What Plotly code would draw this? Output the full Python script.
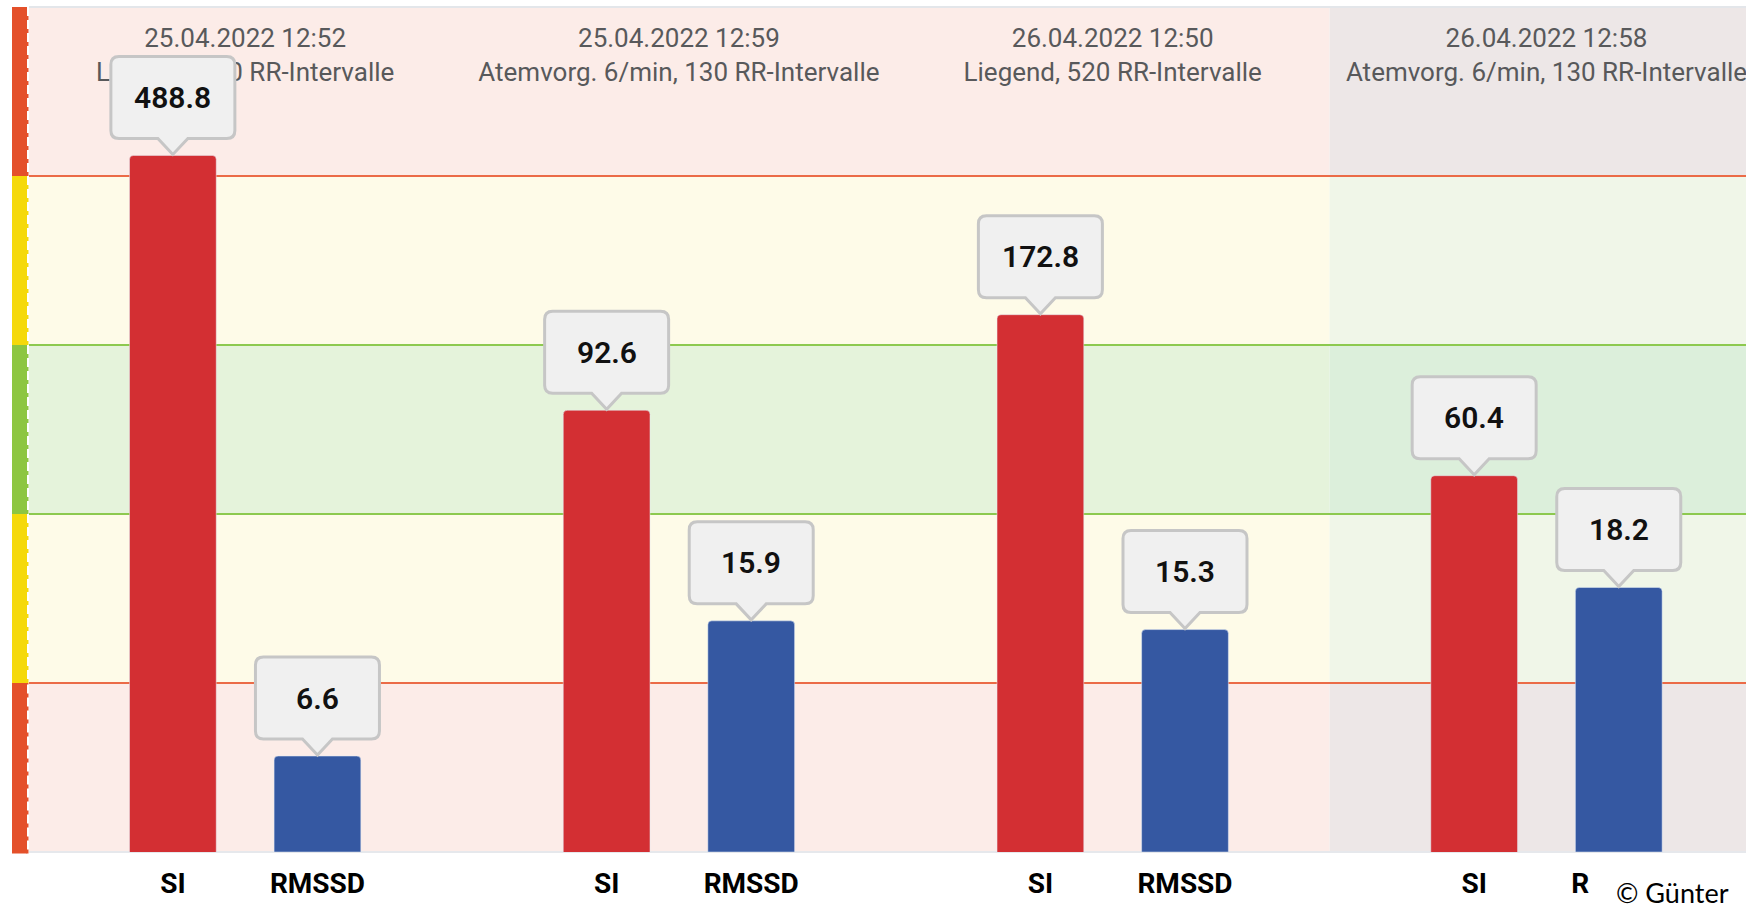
import numpy as np
import plotly.graph_objects as go

# ---------------- data ----------------
timestamps = ["25.04.2022 12:52", "25.04.2022 12:59", "26.04.2022 12:50", "26.04.2022 12:58"]
conditions = ["Liegend, 520 RR-Intervalle", "Atemvorg. 6/min, 130 RR-Intervalle",
              "Liegend, 520 RR-Intervalle", "Atemvorg. 6/min, 130 RR-Intervalle"]
si_values = [488.8, 92.6, 172.8, 60.4]
rmssd_values = [6.6, 15.9, 15.3, 18.2]
metric_labels = ["SI", "RMSSD"]
selected_group = 3

# ---------------- style ----------------
W, H = 1746, 905
ML, MR, MT, MB = 29, 0, 7, 53
PW, PH = W - ML - MR, H - MT - MB
SI_COLOR = "#D32F33"
RMSSD_COLOR = "#3558A2"
band_edges = [0, 0.2, 0.4, 0.6, 0.8, 1.0]
band_fill = ["#FCECE8", "#FEFBE8", "#E5F3DB", "#FEFBE8", "#FCECE8"]
band_fill_sel = ["#EDE7E7", "#F0F6E8", "#DCEFDB", "#F0F6E8", "#EDE7E7"]
strip_colors = ["#E4502A", "#F5D90A", "#8DC641", "#F5D90A", "#E4502A"]
edge_line_colors = ["#EB6B47", "#8DC94F", "#8DC94F", "#EB6B47"]
FONT = "Roboto, 'Liberation Sans', sans-serif"

n = len(si_values)
group_step = 3
si_x = [group_step * i for i in range(n)]
rmssd_x = [group_step * i + 1 for i in range(n)]
tick_vals = sorted(si_x + rmssd_x)
tick_text = [metric_labels[0] if v in si_x else metric_labels[1] for v in tick_vals]

fig = go.Figure()
fig.add_trace(go.Bar(x=si_x, y=si_values, width=0.6, marker=dict(color=SI_COLOR, cornerradius=4),
                     yaxis="y", name="SI", showlegend=False))
fig.add_trace(go.Bar(x=rmssd_x, y=rmssd_values, width=0.6, marker=dict(color=RMSSD_COLOR, cornerradius=4),
                     yaxis="y2", name="RMSSD", showlegend=False))

# group headers (below tooltip shapes)
header_text = [f"{t}<br>{c}" for t, c in zip(timestamps, conditions)]
fig.add_trace(go.Scatter(x=[gx + 0.5 for gx in si_x], y=[0.940] * n, yaxis="y3", mode="text",
                         text=header_text, textposition="middle center",
                         textfont=dict(family=FONT, size=26, color="#58595B"),
                         showlegend=False, hoverinfo="skip", cliponaxis=False))

shapes = []
x_lo, x_hi = -0.995, 10.88
col_edges = [gx - 1 for gx in si_x] + [si_x[-1] + 2]
sel_start = col_edges[selected_group]
# background bands
for b in range(5):
    shapes.append(dict(type="rect", xref="x", yref="paper", x0=x_lo - 1, x1=sel_start,
                       y0=band_edges[b], y1=band_edges[b + 1], fillcolor=band_fill[b],
                       line=dict(width=0), layer="below"))
    shapes.append(dict(type="rect", xref="x", yref="paper", x0=sel_start, x1=x_hi + 2,
                       y0=band_edges[b], y1=band_edges[b + 1], fillcolor=band_fill_sel[b],
                       line=dict(width=0), layer="below"))
    # left colour strip
    y0 = band_edges[b] if b > 0 else -1.5 / PH
    shapes.append(dict(type="rect", xref="paper", yref="paper", x0=-17 / PW, x1=-2 / PW,
                       y0=y0, y1=band_edges[b + 1], fillcolor=strip_colors[b],
                       line=dict(width=0), layer="below"))
    shapes.append(dict(type="line", xref="paper", yref="paper", x0=-1.5 / PW, x1=-1.5 / PW,
                       y0=y0, y1=band_edges[b + 1],
                       line=dict(color=strip_colors[b], width=2, dash="4px,9px"), layer="below"))
for k, c in enumerate(edge_line_colors):
    shapes.append(dict(type="line", xref="paper", yref="paper", x0=0, x1=1,
                       y0=band_edges[k + 1], y1=band_edges[k + 1],
                       line=dict(color=c, width=2), layer="below"))
# borders
shapes.append(dict(type="line", xref="paper", yref="paper", x0=0, x1=1, y0=1, y1=1,
                   line=dict(color="#E3E6EA", width=2), layer="below"))
shapes.append(dict(type="line", xref="paper", yref="paper", x0=0, x1=1, y0=0, y1=0,
                   line=dict(color="#E6E8EC", width=2), layer="below"))

# tooltip callouts (pixel-sized, anchored at bar tops)
tip_path = ("M 0,1 L -15,17 L -54,17 Q -62,17 -62,25 L -62,91 Q -62,99 -54,99 "
            "L 54,99 Q 62,99 62,91 L 62,25 Q 62,17 54,17 L 15,17 Z")
annotations = []
for xs, vals, yref in [(si_x, si_values, "y"), (rmssd_x, rmssd_values, "y2")]:
    for xv, v in zip(xs, vals):
        shapes.append(dict(type="path", xref="x", yref=yref, xsizemode="pixel", ysizemode="pixel",
                           xanchor=xv, yanchor=v, path=tip_path, fillcolor="#F0F0F0",
                           line=dict(color="#C6C6C6", width=3), layer="above"))
        ay = np.log10(v) if yref == "y" else v
        annotations.append(dict(x=xv, y=ay, xref="x", yref=yref, yshift=58, showarrow=False,
                                text=f"{v:.1f}", yanchor="middle",
                                font=dict(family=FONT, size=30, color="#111111", weight=600)))

# white patch of the copyright overlay (covers part of the last tick label)
shapes.append(dict(type="rect", xref="paper", yref="paper", x0=(1590 - ML) / PW, x1=1.01,
                   y0=-(H - MT - PH + 10) / PH, y1=-8 / PH, fillcolor="white",
                   line=dict(width=0), layer="above"))
annotations.append(dict(x=1, y=(852 - 914) / PH, xref="paper", yref="paper", xanchor="right",
                        yanchor="bottom", xshift=-12, showarrow=False, text="© Günter",
                        borderpad=4,
                        font=dict(family="Lato, 'Open Sans', sans-serif", size=27, color="black")))

fig.update_layout(
    width=W, height=H, autosize=False,
    margin=dict(l=ML, r=MR, t=MT, b=MB),
    paper_bgcolor="white", plot_bgcolor="white",
    barmode="overlay", hovermode=False,
    shapes=shapes, annotations=annotations,
    xaxis=dict(range=[x_lo, x_hi], tickvals=tick_vals, ticktext=tick_text, showgrid=False,
               zeroline=False, showline=False, ticks="outside", ticklen=6, tickcolor="rgba(0,0,0,0)",
               tickfont=dict(family=FONT, size=28, color="black", weight="bold")),
    yaxis=dict(type="log", range=[0.714, 3.110], visible=False, fixedrange=True),
    yaxis2=dict(range=[0, 58.13], overlaying="y", visible=False),
    yaxis3=dict(range=[0, 1], overlaying="y", visible=False),
)

fig.write_html("out.html", config={"displayModeBar": False},
               post_script="document.body.style.margin='0';document.body.style.overflow='hidden';")
